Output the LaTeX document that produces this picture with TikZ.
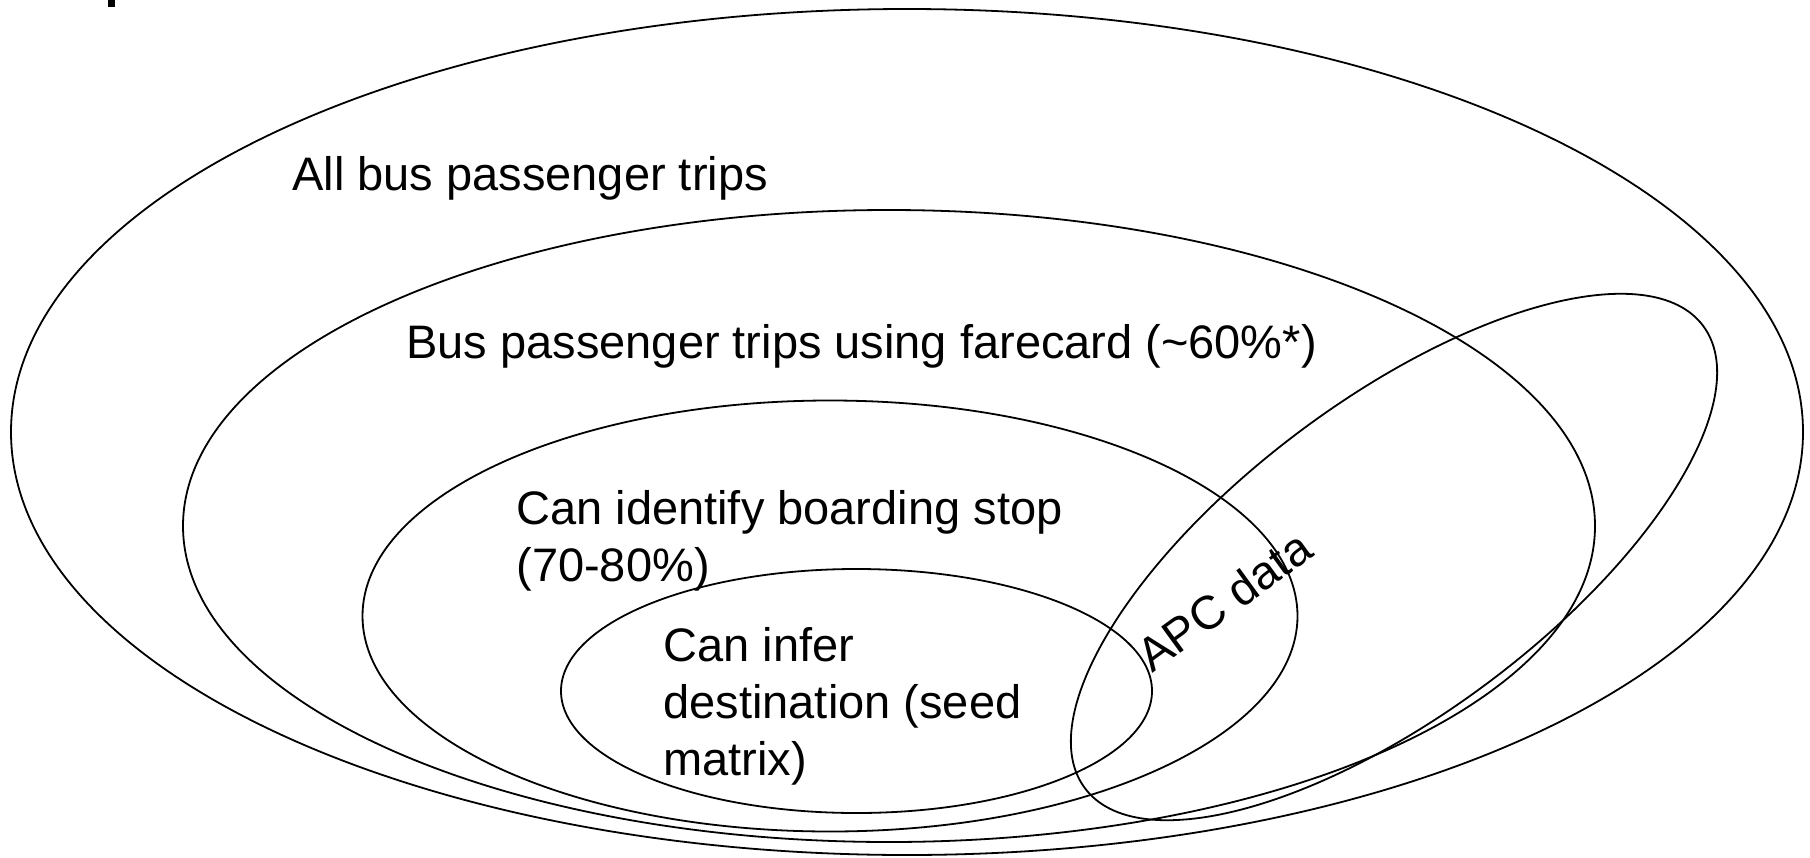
\documentclass[tikz,border=0pt]{standalone}
\usepackage{fontspec}
\setmainfont{Liberation Sans}
\usetikzlibrary{positioning, shapes.geometric}

\begin{document}
\begin{tikzpicture}[x=0.5pt, y=-0.5pt,
    every node/.style={font=\fontsize{23.5}{28.5}\selectfont, inner sep=0pt, align=left},
    set/.style={ellipse, draw=black, line width=0.9pt, minimum width=#1},
    label/.style={anchor=base west}]
  \useasboundingbox (0,0) rectangle (1810,857);
  \fill (108,0) rectangle (115,7);
  % nested sets
  \node[set=896pt, minimum height=423pt] (all) at (907,432) {};
  \node[set=706pt, minimum height=316pt] (fare) at (889,526) {};
  \node[set=467.5pt, minimum height=215.5pt] (board) at (830,616) {};
  \node[set=295.5pt, minimum height=122pt] (dest) at (856.5,691) {};
  % APC
  \node[set=386pt, minimum height=157pt, rotate=36.8] (apc) at (1394,557) {};
  % labels (base = last line)
  \node[label] (alltxt) at (292,190) {All bus passenger trips};
  \node[label] (faretxt) at (406,358) {Bus passenger trips using farecard (\textasciitilde60\%*)};
  \node[label] (boardtxt) at (516,581) {Can identify boarding stop\\(70-80\%)};
  \node[label] (desttxt) at (663,775) {Can infer\\destination (seed\\matrix)};
  \node[rotate=36] (apctxt) at (1224,601) {APC data};
\end{tikzpicture}
\end{document}
